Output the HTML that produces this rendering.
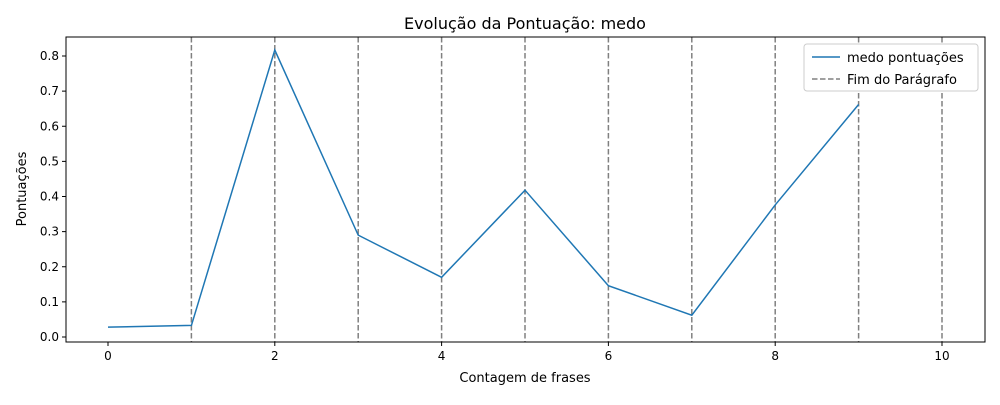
<!DOCTYPE html>
<html><head><meta charset="utf-8"><style>
body{margin:0;background:#fff;}
svg text{font-family:"DejaVu Sans","Liberation Sans",sans-serif;fill:#000;}
</style></head><body>
<svg id="chart" width="1000" height="400" xmlns="http://www.w3.org/2000/svg">
<rect x="0" y="0" width="1000" height="400" fill="#fff"/>
<g id="plot"></g>
<text x="525" y="29" font-size="16" text-anchor="middle">Evolução da Pontuação: medo</text>
<text x="525" y="382" font-size="13" text-anchor="middle">Contagem de frases</text>
<text transform="translate(26,189) rotate(-90)" font-size="13" text-anchor="middle">Pontuações</text>
<g>
<rect x="804" y="44" width="174" height="47" fill="#fff" stroke="#ccc" rx="3"/>
<line x1="812" y1="57" x2="840" y2="57" stroke="#1f77b4" stroke-width="1.5"/>
<text x="847" y="62" font-size="13">medo pontuações</text>
<line x1="812" y1="79" x2="840" y2="79" stroke="#808080" stroke-width="1.5" stroke-dasharray="5.5,2.5"/>
<text x="847" y="84" font-size="13">Fim do Parágrafo</text>
</g>
</svg>
<script>
const sentences = [0,1,2,3,4,5,6,7,8,9];
const scores = [0.028,0.033,0.817,0.290,0.170,0.418,0.146,0.062,0.376,0.662];
const paragraphEnds = [1,2,3,4,5,6,7,8,9,10];
const xTicks = [0,2,4,6,8,10];
const yTicks = [0.0,0.1,0.2,0.3,0.4,0.5,0.6,0.7,0.8];
const L=66,R=985,T=37,B=342;
const xs = v => 108 + v*83.4;
const ys = v => 337 - v*351.25;
const NS='http://www.w3.org/2000/svg';
const g=document.getElementById('plot');
function mk(t,a){const e=document.createElementNS(NS,t);for(const k in a)e.setAttribute(k,a[k]);g.appendChild(e);return e;}
paragraphEnds.forEach(p=>{
  const e=mk('line',{x1:xs(p),x2:xs(p),y1:T,y2:B,stroke:'#808080','stroke-width':1.5,'stroke-dasharray':'5.5,2.5'});
  
  
});
const line=mk('polyline',{points:sentences.map((s,i)=>xs(s)+','+ys(scores[i])).join(' '),fill:'none',stroke:'#1f77b4','stroke-width':1.5});


const frame=mk('rect',{x:L,y:T,width:R-L,height:B-T,fill:'none',stroke:'#000','stroke-width':1});


xTicks.forEach(t=>{
  mk('line',{x1:xs(t),x2:xs(t),y1:B,y2:B+4,stroke:'#000'});
  const tx=mk('text',{x:xs(t),y:B+18,'font-size':12,'text-anchor':'middle'});tx.textContent=t;
  
  
});
yTicks.forEach(t=>{
  mk('line',{x1:L-4,x2:L,y1:ys(t),y2:ys(t),stroke:'#000'});
  const tx=mk('text',{x:L-7,y:ys(t)+4,'font-size':12,'text-anchor':'end'});tx.textContent=t.toFixed(1);
  
  
});
</script>
</body></html>
